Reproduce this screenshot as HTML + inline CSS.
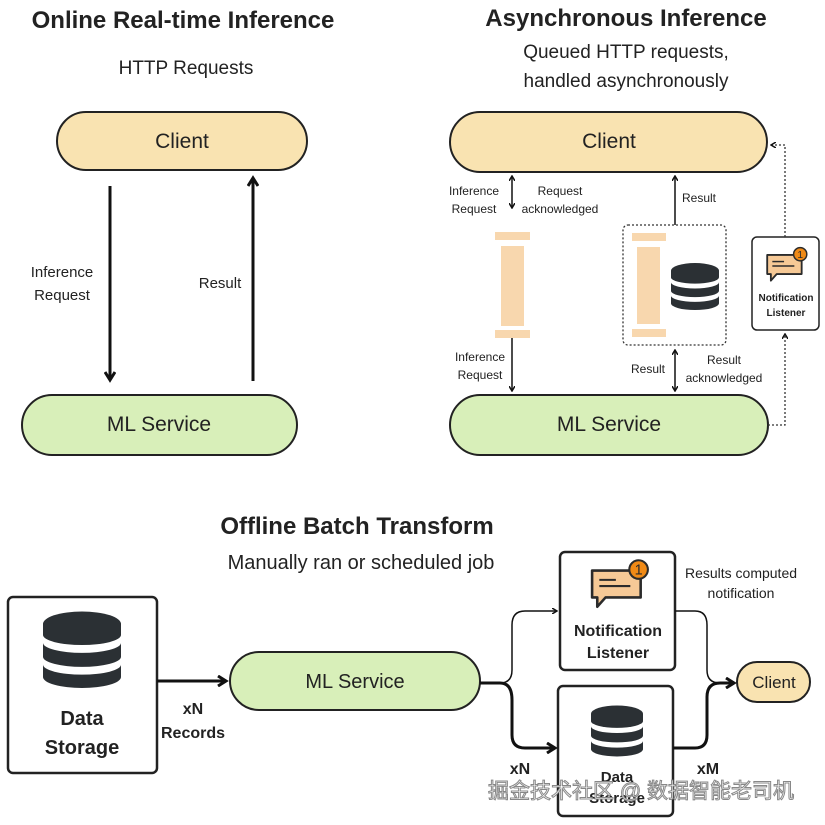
<!DOCTYPE html>
<html><head><meta charset="utf-8"><style>
body{margin:0;background:#fff}
svg{display:block}
text{font-family:"Liberation Sans","Noto Sans CJK SC",sans-serif;fill:#222}
</style></head><body>
<svg width="825" height="825" viewBox="0 0 825 825" xmlns="http://www.w3.org/2000/svg">
<defs>
<symbol id="db" viewBox="0 0 100 100">
<path d="M0,16 A50,16 0 0 1 100,16 V30 A50,13 0 0 1 0,30 Z" fill="#2b3034"/>
<path d="M0,40 A50,13 0 0 0 100,40 V58 A50,13 0 0 1 0,58 Z" fill="#2b3034"/>
<path d="M0,68 A50,13 0 0 0 100,68 V84 A50,14 0 0 1 0,84 Z" fill="#2b3034"/>
</symbol>
<symbol id="note" viewBox="0 0 60 50">
<path d="M3,12 H50 V38 H16 L8,47 V38 H3 Z" fill="#f6c996" stroke="#2b2b2b" stroke-width="2.5" stroke-linejoin="round"/>
<line x1="10" y1="21" x2="26" y2="21" stroke="#2b2b2b" stroke-width="2"/>
<line x1="10" y1="27" x2="40" y2="27" stroke="#2b2b2b" stroke-width="2"/>
<circle cx="48" cy="11" r="9" fill="#f08a16" stroke="#2b2b2b" stroke-width="2"/>
<text x="48" y="16" font-size="14" text-anchor="middle" style="fill:#2b2b2b">1</text>
</symbol>
<marker id="ah" markerWidth="8" markerHeight="8" refX="6" refY="4" orient="auto" markerUnits="userSpaceOnUse"><path d="M0,0 L7,4 L0,8" fill="none" stroke="#111" stroke-width="2"/></marker>
<marker id="as" markerWidth="6" markerHeight="6" refX="5" refY="3" orient="auto-start-reverse" markerUnits="userSpaceOnUse"><path d="M0,0 L5,3 L0,6" fill="none" stroke="#111" stroke-width="1.5"/></marker>
<marker id="ab" markerWidth="12" markerHeight="12" refX="9" refY="6" orient="auto" markerUnits="userSpaceOnUse"><path d="M1,1 L9,6 L1,11" fill="none" stroke="#111" stroke-width="3"/></marker>
</defs>

<!-- Left top -->
<text x="183" y="28" font-size="24" font-weight="bold" text-anchor="middle">Online Real-time Inference</text>
<text x="186" y="74" font-size="19" text-anchor="middle">HTTP Requests</text>
<rect x="57" y="112" width="250" height="58" rx="29" fill="#f9e3b1" stroke="#222" stroke-width="2"/>
<text x="182" y="148" font-size="21" text-anchor="middle">Client</text>
<rect x="22" y="395" width="275" height="60" rx="30" fill="#d8efb9" stroke="#222" stroke-width="2"/>
<text x="159" y="431" font-size="21" text-anchor="middle">ML Service</text>
<line x1="110" y1="186" x2="110" y2="380" stroke="#111" stroke-width="3" marker-end="url(#ab)"/>
<line x1="253" y1="381" x2="253" y2="178" stroke="#111" stroke-width="3" marker-end="url(#ab)"/>
<text x="62" y="277" font-size="15" text-anchor="middle">Inference</text>
<text x="62" y="300" font-size="15" text-anchor="middle">Request</text>
<text x="220" y="288" font-size="15" text-anchor="middle">Result</text>

<!-- Right top -->
<text x="626" y="26" font-size="24" font-weight="bold" text-anchor="middle">Asynchronous Inference</text>
<text x="626" y="58" font-size="19" text-anchor="middle">Queued HTTP requests,</text>
<text x="626" y="87" font-size="19" text-anchor="middle">handled asynchronously</text>
<rect x="450" y="112" width="317" height="60" rx="30" fill="#f9e3b1" stroke="#222" stroke-width="2"/>
<text x="609" y="148" font-size="21" text-anchor="middle">Client</text>
<rect x="450" y="395" width="318" height="60" rx="30" fill="#d8efb9" stroke="#222" stroke-width="2"/>
<text x="609" y="431" font-size="21" text-anchor="middle">ML Service</text>
<line x1="512" y1="176" x2="512" y2="208" stroke="#111" stroke-width="1.5" marker-start="url(#as)" marker-end="url(#as)"/>
<rect x="495" y="232" width="35" height="8" fill="#f8d7ae"/>
<rect x="501" y="246" width="23" height="80" fill="#f8d7ae"/>
<rect x="495" y="330" width="35" height="8" fill="#f8d7ae"/>
<line x1="512" y1="338" x2="512" y2="391" stroke="#111" stroke-width="1.5" marker-end="url(#as)"/>
<text x="474" y="195" font-size="12" text-anchor="middle">Inference</text>
<text x="474" y="213" font-size="12" text-anchor="middle">Request</text>
<text x="560" y="195" font-size="12" text-anchor="middle">Request</text>
<text x="560" y="213" font-size="12" text-anchor="middle">acknowledged</text>
<text x="480" y="361" font-size="12" text-anchor="middle">Inference</text>
<text x="480" y="379" font-size="12" text-anchor="middle">Request</text>
<rect x="623" y="225" width="103" height="120" rx="5" fill="none" stroke="#333" stroke-width="1.3" stroke-dasharray="2,2"/>
<rect x="632" y="233" width="34" height="8" fill="#f8d7ae"/>
<rect x="637" y="247" width="23" height="77" fill="#f8d7ae"/>
<rect x="632" y="329" width="34" height="8" fill="#f8d7ae"/>
<use href="#db" x="671" y="261" width="48" height="52"/>
<line x1="675" y1="225" x2="675" y2="176" stroke="#111" stroke-width="1.5" marker-end="url(#as)"/>
<line x1="675" y1="350" x2="675" y2="391" stroke="#111" stroke-width="1.5" marker-start="url(#as)" marker-end="url(#as)"/>
<text x="699" y="202" font-size="12" text-anchor="middle">Result</text>
<text x="648" y="373" font-size="12" text-anchor="middle">Result</text>
<text x="724" y="364" font-size="12" text-anchor="middle">Result</text>
<text x="724" y="382" font-size="12" text-anchor="middle">acknowledged</text>
<rect x="752" y="237" width="67" height="93" rx="5" fill="#fff" stroke="#222" stroke-width="1.5"/>
<use href="#note" x="765" y="246" width="44" height="37"/>
<text x="786" y="301" font-size="10" font-weight="bold" text-anchor="middle">Notification</text>
<text x="786" y="316" font-size="10" font-weight="bold" text-anchor="middle">Listener</text>
<path d="M768,425 H785 V334" fill="none" stroke="#333" stroke-width="1.3" stroke-dasharray="2,2" marker-end="url(#as)"/>
<path d="M785,237 V145 H771" fill="none" stroke="#333" stroke-width="1.3" stroke-dasharray="2,2" marker-end="url(#as)"/>

<!-- Bottom -->
<text x="357" y="534" font-size="24" font-weight="bold" text-anchor="middle">Offline Batch Transform</text>
<text x="361" y="569" font-size="20" text-anchor="middle">Manually ran or scheduled job</text>
<rect x="8" y="597" width="149" height="176" rx="5" fill="#fff" stroke="#222" stroke-width="2.5"/>
<use href="#db" x="43" y="608" width="78" height="85"/>
<text x="82" y="725" font-size="20" font-weight="bold" text-anchor="middle">Data</text>
<text x="82" y="754" font-size="20" font-weight="bold" text-anchor="middle">Storage</text>
<line x1="157" y1="681" x2="226" y2="681" stroke="#111" stroke-width="3" marker-end="url(#ab)"/>
<text x="193" y="714" font-size="16" font-weight="bold" text-anchor="middle">xN</text>
<text x="193" y="738" font-size="16" font-weight="bold" text-anchor="middle">Records</text>
<rect x="230" y="652" width="250" height="58" rx="29" fill="#d8efb9" stroke="#222" stroke-width="2"/>
<text x="355" y="688" font-size="20" text-anchor="middle">ML Service</text>
<rect x="560" y="552" width="115" height="118" rx="5" fill="#fff" stroke="#222" stroke-width="2.5"/>
<use href="#note" x="589" y="558" width="62" height="52"/>
<text x="618" y="636" font-size="16" font-weight="bold" text-anchor="middle">Notification</text>
<text x="618" y="658" font-size="16" font-weight="bold" text-anchor="middle">Listener</text>
<rect x="558" y="686" width="115" height="130" rx="5" fill="#fff" stroke="#222" stroke-width="2.5"/>
<use href="#db" x="591" y="703" width="52" height="57"/>
<text x="617" y="782" font-size="15" font-weight="bold" text-anchor="middle">Data</text>
<text x="617" y="803" font-size="15" font-weight="bold" text-anchor="middle">Storage</text>
<rect x="737" y="662" width="73" height="40" rx="20" fill="#f9e3b1" stroke="#222" stroke-width="2"/>
<text x="774" y="688" font-size="17" text-anchor="middle">Client</text>
<path d="M480,683 H500 Q512,683 512,670 V625 Q512,611 525,611 H557" fill="none" stroke="#111" stroke-width="1.5" marker-end="url(#as)"/>
<path d="M480,683 H500 Q512,683 512,700 V735 Q512,748 525,748 H555" fill="none" stroke="#111" stroke-width="3" marker-end="url(#ab)"/>
<path d="M675,611 H695 Q707,611 707,625 V670 Q707,683 720,683 H734" fill="none" stroke="#111" stroke-width="1.5"/>
<path d="M673,748 H695 Q707,748 707,735 V697 Q707,683 720,683 H734" fill="none" stroke="#111" stroke-width="3" marker-end="url(#ab)"/>
<text x="741" y="578" font-size="14" text-anchor="middle">Results computed</text>
<text x="741" y="598" font-size="14" text-anchor="middle">notification</text>
<text x="520" y="774" font-size="16" font-weight="bold" text-anchor="middle">xN</text>
<text x="708" y="774" font-size="16" font-weight="bold" text-anchor="middle">xM</text>
<text x="641" y="798" font-size="21" text-anchor="middle" style="fill:#fff;stroke:#888;stroke-width:1">掘金技术社区 @ 数据智能老司机</text>
</svg>
</body></html>
